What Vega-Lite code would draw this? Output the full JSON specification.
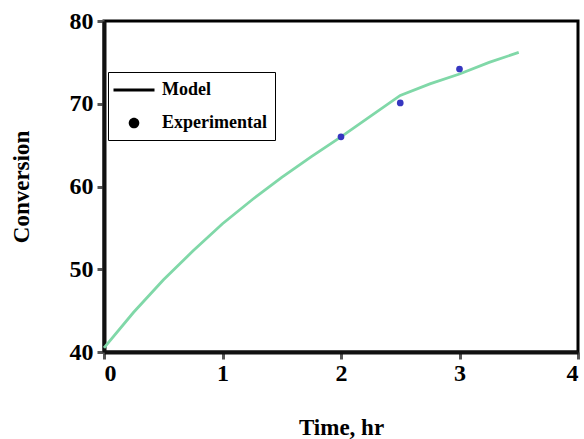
{
  "$schema": "https://vega.github.io/schema/vega-lite/v6.json",
  "width": 474,
  "height": 331,
  "autosize": "none",
  "padding": {"left": 104, "top": 21, "right": 6, "bottom": 87},
  "background": "white",
  "config": {
    "view": {"stroke": "black", "strokeWidth": 3},
    "font": "Liberation Serif",
    "axis": {
      "grid": false,
      "domainColor": "#111",
      "domainWidth": 4,
      "tickColor": "#555",
      "tickWidth": 3,
      "tickSize": 7,
      "labelFont": "Liberation Serif",
      "labelFontWeight": "bold",
      "labelFontSize": 24,
      "labelColor": "black",
      "titleFont": "Liberation Serif",
      "titleFontWeight": "bold",
      "titleFontSize": 23,
      "titleColor": "black"
    }
  },
  "datasets": {
    "model": [
      {"time": 0, "conversion": 40.5},
      {"time": 0.25, "conversion": 44.8},
      {"time": 0.5, "conversion": 48.7},
      {"time": 0.75, "conversion": 52.2},
      {"time": 1, "conversion": 55.5},
      {"time": 1.25, "conversion": 58.4},
      {"time": 1.5, "conversion": 61.1},
      {"time": 1.75, "conversion": 63.6},
      {"time": 2, "conversion": 66.0},
      {"time": 2.25, "conversion": 68.5},
      {"time": 2.5, "conversion": 71.0},
      {"time": 2.75, "conversion": 72.4},
      {"time": 3, "conversion": 73.6},
      {"time": 3.25, "conversion": 75.0},
      {"time": 3.5, "conversion": 76.2}
    ],
    "experimental": [
      {"time": 2, "conversion": 66.0, "series": "Experimental"},
      {"time": 2.5, "conversion": 70.1, "series": "Experimental"},
      {"time": 3, "conversion": 74.2, "series": "Experimental"}
    ]
  },
  "layer": [
    {
      "data": {"name": "model"},
      "mark": {"type": "line", "color": "#80d8a8", "strokeWidth": 2.8},
      "encoding": {
        "x": {
          "field": "time", "type": "quantitative",
          "scale": {"domain": [0, 4], "nice": false},
          "axis": {"values": [0, 1, 2, 3, 4], "format": "d", "title": "Time, hr", "titlePadding": 31, "labelPadding": 2}
        },
        "y": {
          "field": "conversion", "type": "quantitative",
          "scale": {"domain": [40, 80], "nice": false, "zero": false},
          "axis": {"values": [40, 50, 60, 70, 80], "format": "d", "title": "Conversion", "titlePadding": 36, "labelPadding": 4}
        }
      }
    },
    {
      "data": {"name": "experimental"},
      "mark": {"type": "point", "filled": true, "color": "#3636c0", "opacity": 1, "size": 45},
      "encoding": {
        "x": {"field": "time", "type": "quantitative"},
        "y": {"field": "conversion", "type": "quantitative"}
      }
    },
    {
      "data": {"name": "experimental"},
      "transform": [{"filter": "datum.series === 'Legend only'"}],
      "mark": {"type": "point", "filled": true, "color": "black", "opacity": 1},
      "encoding": {
        "x": {"field": "time", "type": "quantitative"},
        "y": {"field": "conversion", "type": "quantitative"},
        "shape": {
          "field": "series", "type": "nominal",
          "scale": {
            "domain": ["Model", "Experimental"],
            "range": ["M-2.05,-0.16H2.05V0.16H-2.05Z", "M0,-0.53A0.53,0.53 0 1 1 0,0.53A0.53,0.53 0 1 1 0,-0.53Z"]
          },
          "legend": {
            "title": null,
            "orient": "none",
            "legendX": 4,
            "legendY": 51,
            "padding": 8,
            "strokeColor": "black",
            "symbolSize": 400,
            "symbolOffset": 8,
            "labelOffset": 18,
            "rowPadding": 14,
            "symbolFillColor": "black",
            "symbolStrokeWidth": 0,
            "labelFont": "Liberation Serif",
            "labelFontWeight": "bold",
            "labelFontSize": 18,
            "labelColor": "black",
            "encode": {
              "legend": {"strokeWidth": {"value": 2}}
            }
          }
        }
      }
    }
  ]
}
